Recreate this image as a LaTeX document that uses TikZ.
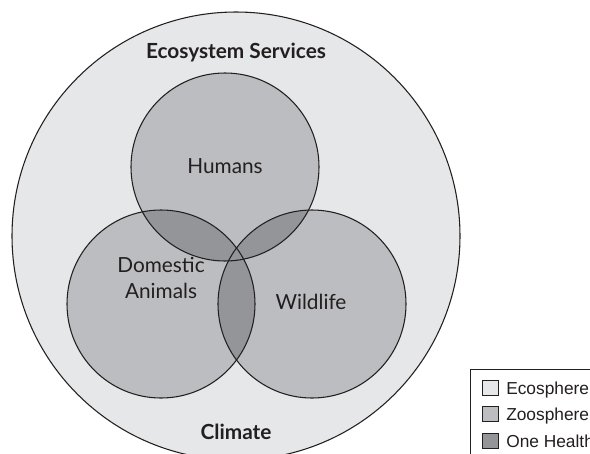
\documentclass[tikz,border=0pt]{standalone}
\usepackage{fontspec}
\setmainfont{Lato}
\newfontfamily\legendfont{Liberation Sans}
\definecolor{ecogray}{RGB}{230,231,232}
\definecolor{zoogray}{RGB}{188,189,192}
\definecolor{ohgray}{RGB}{147,149,152}
\definecolor{inkgray}{RGB}{35,31,32}

\begin{document}
\begin{tikzpicture}[x=0.75pt,y=0.75pt,yscale=-1,xscale=1,
  rim/.style={draw=inkgray, line width=0.8},
  setlabel/.style={inner sep=0.75pt, text=inkgray, align=center, font=\fontsize{15.6}{19.5}\selectfont},
  sphlabel/.style={inner sep=0.75pt, text=inkgray, font=\bfseries\fontsize{15.6}{19.5}\selectfont},
  legtext/.style={inner sep=0pt, anchor=base west, text=inkgray, font=\legendfont\fontsize{13}{15}\selectfont}]

\useasboundingbox (0,0) rectangle (590,454);

%Shape: Circle [ecosphere]
\draw [rim, fill=ecogray] (236,236) circle (224);
%Shape: Circles [zoosphere]
\fill [zoogray] (225,167) circle (94);
\fill [zoogray] (161,304) circle (94);
\fill [zoogray] (312,304) circle (94);
%Shape: Overlaps [one health]
\begin{scope}
  \clip (225,167) circle (94);
  \fill [ohgray] (161,304) circle (94);
  \fill [ohgray] (312,304) circle (94);
\end{scope}
\begin{scope}
  \clip (161,304) circle (94);
  \fill [ohgray] (312,304) circle (94);
\end{scope}
%Shape: Circle outlines
\draw [rim] (225,167) circle (94);
\draw [rim] (161,304) circle (94);
\draw [rim] (312,304) circle (94);

% Text Node
\node (services) [sphlabel, anchor=base] at (236,58) {Ecosystem Services};
% Text Node
\node (climate) [sphlabel, anchor=base] at (236,439) {Climate};
% Text Node
\node (humans) [setlabel, anchor=base] at (225,173) {Humans};
% Text Node
\node (domestic) [setlabel, anchor=base] at (161,298) {Domestic\\Animals};
% Text Node
\node (wildlife) [setlabel, anchor=base] at (311,309) {Wildlife};

%Shape: Rectangle [legend]
\draw [draw=inkgray, line width=0.6, fill=white] (470.5,369) rectangle (620,480);
\foreach \swatch/\entry [count=\i] in {ecogray/Ecosphere, zoogray/Zoosphere, ohgray/One Health}
{
  \draw [draw=inkgray, line width=0.6, fill=\swatch] (482,{380+(\i-1)*26.6}) rectangle (498,{395+(\i-1)*26.6});
  \node (leg\i) [legtext] at (506,{394.3+(\i-1)*26.6}) {\entry};
}

\end{tikzpicture}
\end{document}
